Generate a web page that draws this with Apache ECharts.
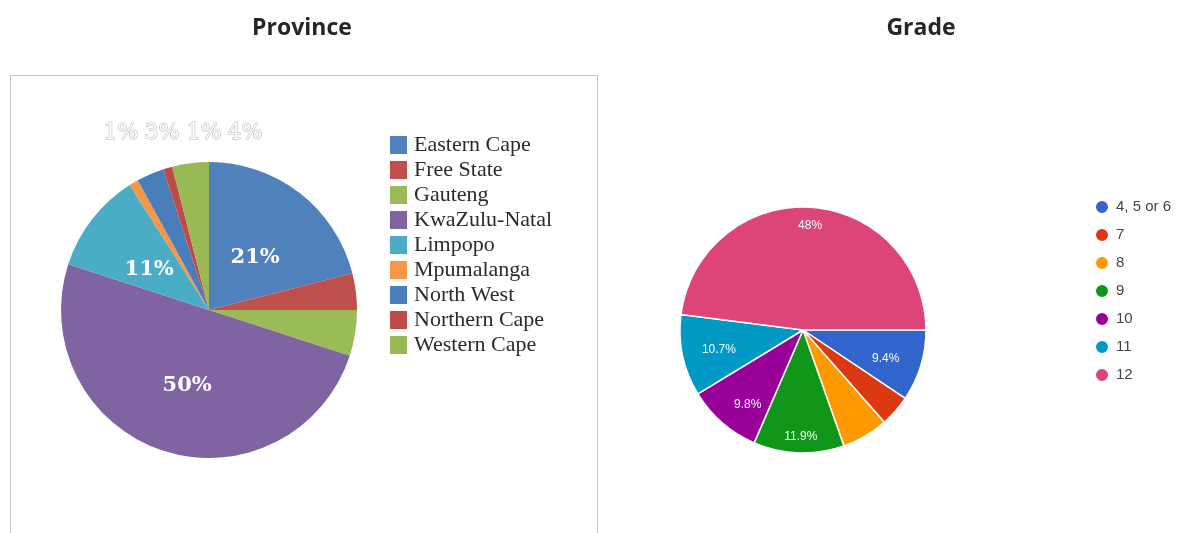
<!DOCTYPE html>
<html>
<head>
<meta charset="utf-8">
<script src="https://cdn.jsdelivr.net/npm/echarts@6/dist/echarts.min.js"></script>
<style>
  html, body { margin: 0; padding: 0; background: #fff; }
  #chart { width: 1178px; height: 533px; }
</style>
</head>
<body>
<div id="chart"></div>
<script>
// Province breakdown (percent of learners)
const provinceNames = ['Eastern Cape', 'Free State', 'Gauteng', 'KwaZulu-Natal', 'Limpopo',
  'Mpumalanga', 'North West', 'Northern Cape', 'Western Cape'];
const provinceValues = [21, 4, 5, 50, 11, 1, 3, 1, 4];

// Grade breakdown (percent of learners)
const gradeNames = ['4, 5 or 6', '7', '8', '9', '10', '11', '12'];
const gradeValues = [9.4, 4.1, 6.1, 11.9, 9.8, 10.7, 48];

// Palettes
const provinceColors = ['#4F81BD', '#C0504D', '#9BBB59', '#8064A2', '#4BACC6',
  '#F79646', '#4A7EBB', '#BE4B48', '#98B954'];
const gradeColors = ['#3366CC', '#DC3912', '#FF9900', '#109618', '#990099', '#0099C6', '#DD4477'];

// Slices whose labels are not drawn
const provinceHiddenLabels = ['Free State', 'Gauteng'];
const gradeHiddenLabels = ['7', '8'];
// Small provinces get their labels in a row above the pie
const provinceTopLabels = ['Mpumalanga', 'North West', 'Northern Cape', 'Western Cape'];
const topRowX = [121, 162, 204, 245];
const topRowY = 133;

// Nudges for the inside labels, by slice
const provinceLabelShift = {
  'Eastern Cape': [-1, 8],
  'KwaZulu-Natal': [2, 2],
  'Limpopo': [1, 7]
};
const gradeLabelShift = {
  '4, 5 or 6': [21, 10],
  '9': [0, 42],
  '10': [-13, 26],
  '11': [-21, 6],
  '12': [3, -40]
};

const serif = '"Liberation Serif", "DejaVu Serif", serif';
const sans = '"Liberation Sans", Arial, sans-serif';

const provinceData = provinceNames.map((n, i) => {
  const item = { name: n, value: provinceValues[i], itemStyle: { color: provinceColors[i] } };
  if (provinceHiddenLabels.includes(n)) item.label = { show: false };
  if (provinceTopLabels.includes(n)) {
    item.label = {
      show: true, position: 'outside', color: '#ffffff',
      textBorderColor: '#b8b8b8', textBorderWidth: 1.2,
      fontFamily: '"DejaVu Serif", serif', fontSize: 22, fontWeight: 'normal'
    };
    item.labelLine = { show: false };
  }
  return item;
});

const gradeData = gradeNames.map((n, i) => {
  const item = { name: n, value: gradeValues[i], itemStyle: { color: gradeColors[i] } };
  if (gradeHiddenLabels.includes(n)) item.label = { show: false };
  return item;
});

const chart = echarts.init(document.getElementById('chart'), null, { renderer: 'canvas' });

const titleFont = 'bold 23px "Open Sans", "Noto Sans", sans-serif';

chart.setOption({
  animation: false,
  backgroundColor: '#ffffff',
  graphic: [
    {
      type: 'rect', silent: true,
      shape: { x: 10.5, y: 75.5, width: 587, height: 520 },
      style: { fill: 'none', stroke: '#c6c6c6', lineWidth: 1 }
    },
    {
      type: 'text', silent: true, x: 302, y: 28,
      style: { text: 'Province', font: titleFont, fill: '#262626', align: 'center', verticalAlign: 'middle' }
    },
    {
      type: 'text', silent: true, x: 921, y: 28,
      style: { text: 'Grade', font: titleFont, fill: '#262626', align: 'center', verticalAlign: 'middle' }
    }
  ],
  legend: [
    {
      orient: 'vertical', left: 385, top: 129,
      data: provinceNames,
      icon: 'rect', itemWidth: 17, itemHeight: 18, itemGap: 3,
      textStyle: { fontFamily: serif, fontSize: 22, color: '#2b2b2b', padding: [0, 0, 0, 2] },
      selectedMode: false
    },
    {
      orient: 'vertical', left: 1089, top: 194,
      data: gradeNames,
      icon: 'circle', itemWidth: 14, itemHeight: 14, itemGap: 12,
      textStyle: { fontFamily: sans, fontSize: 15, color: '#444', padding: [0, 0, 0, 2] },
      selectedMode: false
    }
  ],
  series: [
    {
      type: 'pie',
      center: [209, 310],
      radius: 148,
      startAngle: 90,
      clockwise: true,
      avoidLabelOverlap: false,
      data: provinceData,
      label: {
        show: true, position: 'inside', formatter: '{c}%',
        color: '#ffffff', fontFamily: '"DejaVu Serif", serif', fontWeight: 'bold', fontSize: 21
      },
      labelLayout: function (p) {
        const name = provinceNames[p.dataIndex];
        const k = provinceTopLabels.indexOf(name);
        if (k >= 0) {
          return { x: topRowX[k], y: topRowY, align: 'center', verticalAlign: 'middle' };
        }
        const s = provinceLabelShift[name] || [0, 0];
        return { dx: s[0], dy: s[1] };
      },
      emphasis: { disabled: true }
    },
    {
      type: 'pie',
      center: [803, 330],
      radius: 123,
      startAngle: 0,
      clockwise: true,
      avoidLabelOverlap: false,
      data: gradeData,
      itemStyle: { borderColor: '#ffffff', borderWidth: 1.5 },
      label: {
        show: true, position: 'inside', formatter: '{c}%',
        color: '#ffffff', fontFamily: sans, fontSize: 12
      },
      labelLayout: function (p) {
        const s = gradeLabelShift[gradeNames[p.dataIndex]] || [0, 0];
        return { dx: s[0], dy: s[1] };
      },
      emphasis: { disabled: true }
    }
  ]
});
</script>
</body>
</html>
